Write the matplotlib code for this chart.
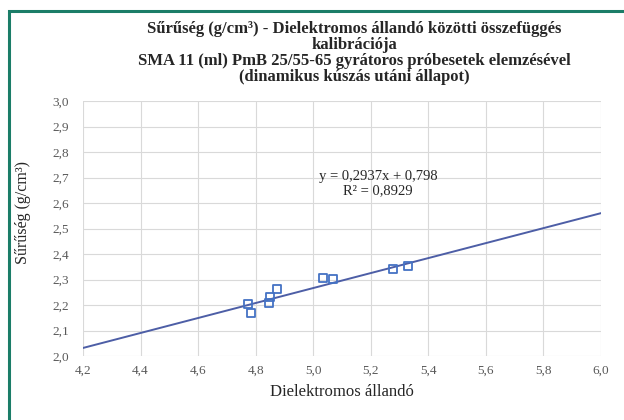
import matplotlib
matplotlib.use("Agg")
import matplotlib.pyplot as plt
from matplotlib.ticker import FuncFormatter, MultipleLocator
from matplotlib.patches import Rectangle
import numpy as np

dielectric = [4.774, 4.783, 4.847, 4.850, 4.875, 5.035, 5.068, 5.276, 5.330]
density = [2.204, 2.167, 2.209, 2.233, 2.262, 2.307, 2.301, 2.340, 2.353]
slope = 0.2937
intercept = 0.798
r2 = 0.8929
x_range = [4.2, 6.0]

title = ("Sűrűség (g/cm³) - Dielektromos állandó közötti összefüggés\n"
         "kalibrációja\n"
         "SMA 11 (ml) PmB 25/55-65 gyrátoros próbesetek elemzésével\n"
         "(dinamikus kúszás utáni állapot)")

plt.rcParams['font.family'] = ['Liberation Serif', 'DejaVu Serif']

fig = plt.figure(figsize=(6.24, 4.2), dpi=100)
fig.patches.append(Rectangle((8.5/624, -0.1), 1.2, 1.1 - 11.5/420,
                             transform=fig.transFigure, fill=False,
                             edgecolor='#1b7d68', linewidth=2.2, zorder=10))
ax = fig.add_axes([83/624, 1 - 356/420, (601 - 83)/624, (356 - 101)/420])

xl = np.array(x_range)
ax.plot(xl, slope * xl + intercept, color='#4d5ea6', linewidth=1.4, zorder=2)
ax.scatter(dielectric, density, marker='s', s=32, facecolors='none',
           edgecolors='#4472c4', linewidths=1.3, zorder=3)

ax.set_xlim(4.2, 6.0)
ax.set_ylim(2.0, 3.0)
ax.xaxis.set_major_locator(MultipleLocator(0.2))
ax.yaxis.set_major_locator(MultipleLocator(0.1))
fmt = FuncFormatter(lambda v, p: f"{v:.1f}".replace('.', ','))
ax.xaxis.set_major_formatter(fmt)
ax.yaxis.set_major_formatter(fmt)
ax.grid(True, color='#d9d9d9', linewidth=0.8, zorder=0)
ax.set_axisbelow(True)
for s in ax.spines.values():
    s.set_visible(False)
ax.tick_params(axis='y', length=0, labelsize=9.5, labelcolor='#595959', pad=10)
ax.tick_params(axis='x', length=0, labelsize=9.5, labelcolor='#595959', pad=6)

ax.set_xlabel("Dielektromos állandó", fontsize=12, color='#262626')
ax.xaxis.set_label_coords(0.5, -28/255)
ax.set_ylabel("Sűrűség (g/cm³)", fontsize=11.5, color='#262626')
ax.yaxis.set_label_coords(-52/518, 0.561)

fig.text(354/624, 1 - 21/420, title, ha='center', va='top', fontsize=12,
         fontweight='bold', color='#262626', linespacing=1.0)

ax.text(5.225, 2.705, f"y = {slope:.4f}x + {intercept:.3f}".replace('.', ','),
        ha='center', va='center', fontsize=10.5, color='#262626')
ax.text(5.225, 2.647, f"R² = {r2:.4f}".replace('.', ','),
        ha='center', va='center', fontsize=10.5, color='#262626')

fig.savefig("out.png", dpi=100)
